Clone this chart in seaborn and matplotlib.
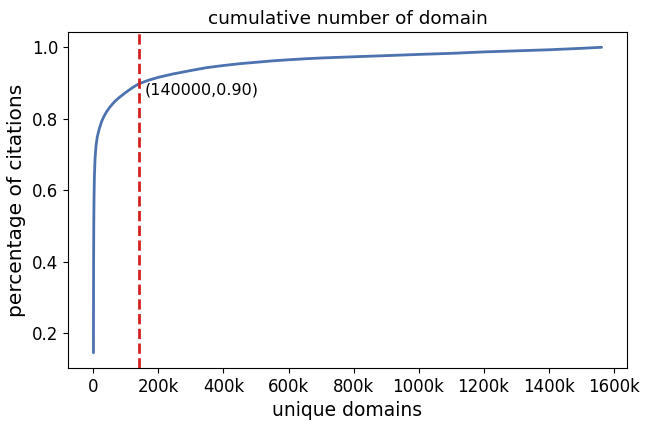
import matplotlib
matplotlib.use("Agg")
import matplotlib.pyplot as plt
import seaborn as sns
import pandas as pd
from matplotlib.ticker import FuncFormatter

# data
unique_domains = [0, 200, 500, 1000, 1800, 3000, 5000, 8000, 12000, 18000, 25000,
                  32000, 40000, 50000, 65000, 80000, 100000, 120000, 140000,
                  170000, 200000, 243000, 300000, 348000, 400000, 449000, 500000,
                  551000, 600000, 655000, 700000, 757000, 820000, 880000, 942000,
                  1000000, 1100000, 1200000, 1300000, 1400000, 1500000, 1563000]
pct_citations = [0.145, 0.28, 0.40, 0.50, 0.58, 0.64, 0.69, 0.725, 0.75, 0.772, 0.792,
                 0.806, 0.819, 0.832, 0.848, 0.860, 0.874, 0.887, 0.898,
                 0.908, 0.916, 0.925, 0.935, 0.943, 0.949, 0.954, 0.958,
                 0.962, 0.965, 0.968, 0.970, 0.972, 0.974, 0.976, 0.978,
                 0.980, 0.983, 0.987, 0.990, 0.993, 0.997, 1.0]
cut_x = 140000
cut_label = "(140000,0.90)"

df = pd.DataFrame({"unique domains": unique_domains, "percentage of citations": pct_citations})

sns.set_style("ticks")
plt.rcParams["font.family"] = ["DejaVu Sans"]
plt.rcParams["text.color"] = "black"
plt.rcParams["axes.labelcolor"] = "black"
plt.rcParams["xtick.color"] = "black"
plt.rcParams["ytick.color"] = "black"

fig, ax = plt.subplots(figsize=(6.48, 4.25), dpi=100)
fig.subplots_adjust(left=0.105, right=0.9676, top=0.9247, bottom=0.134)

sns.lineplot(data=df, x="unique domains", y="percentage of citations", ax=ax,
             color="#4c72b0", linewidth=2)
ax.axvline(cut_x, color="#d42020", linestyle="--", linewidth=2)
ax.text(cut_x + 16000, 0.88, cut_label, fontsize=11.5, va="center", ha="left")

ax.xaxis.set_major_formatter(FuncFormatter(lambda v, p: "0" if v == 0 else f"{int(v/1000)}k"))
ax.set_xticks(list(range(0, 1600001, 200000)))
ax.tick_params(axis="x", labelsize=12)
ax.tick_params(axis="y", labelsize=12)
ax.set_xlabel("unique domains", fontsize=13.5)
ax.set_ylabel("percentage of citations", fontsize=14.5)
ax.set_title("cumulative number of domain", fontsize=13.3)
for s in ax.spines.values():
    s.set_visible(True)
    s.set_color("black")

fig.savefig("out.png", dpi=100)
